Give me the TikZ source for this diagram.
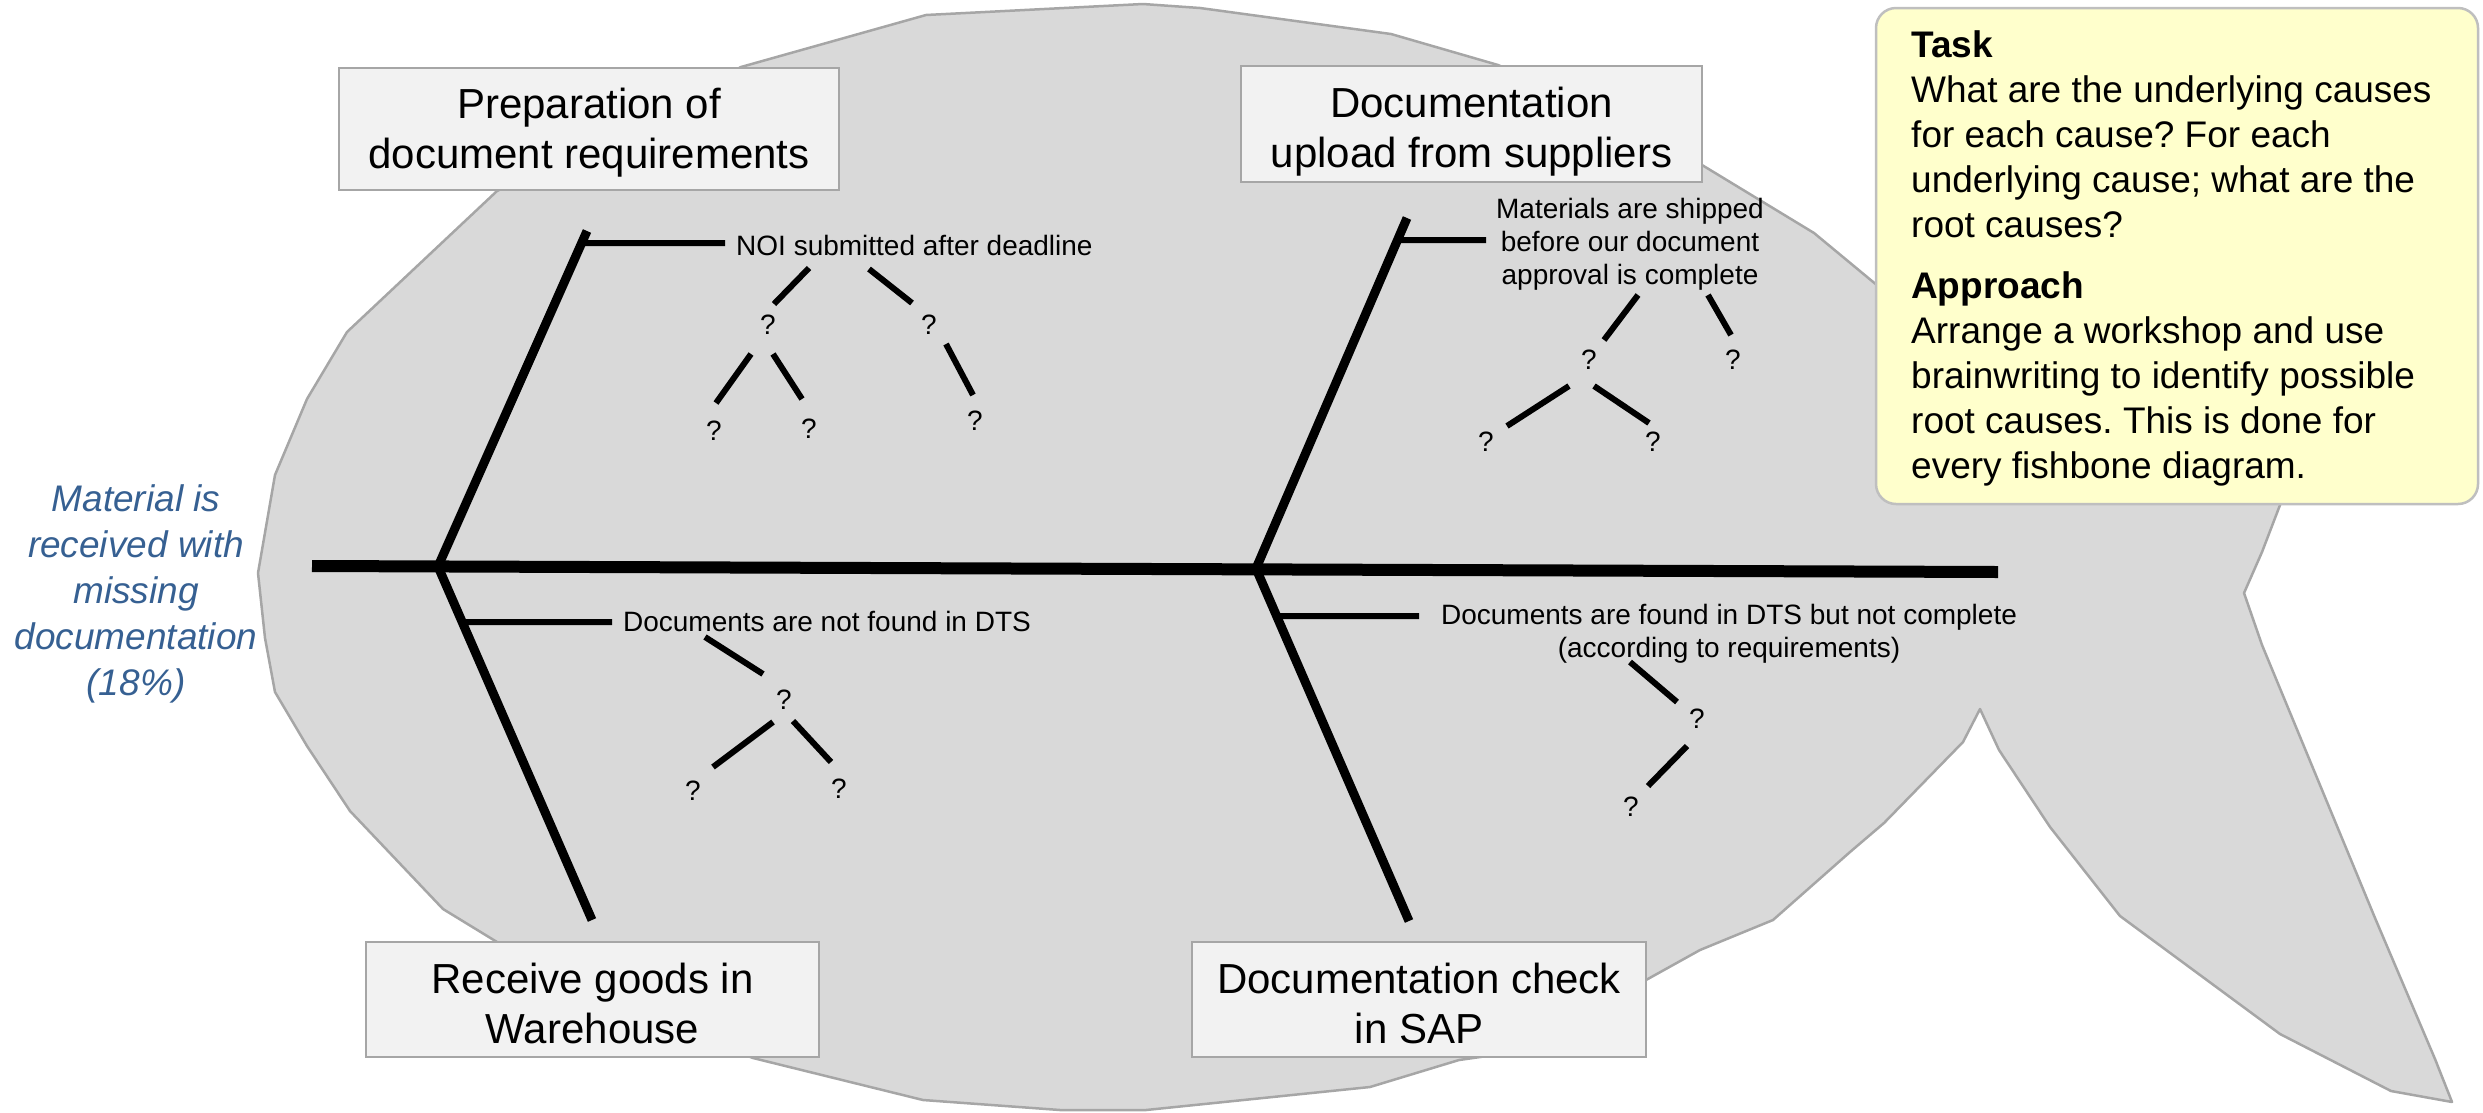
\documentclass[tikz,border=0pt]{standalone}
\usepackage{fontspec}
\setmainfont{Liberation Sans}
\usetikzlibrary{calc}
\definecolor{fishfill}{RGB}{217,217,217}
\definecolor{fishline}{RGB}{166,166,166}
\definecolor{boxfill}{RGB}{242,242,242}
\definecolor{notefill}{RGB}{255,255,204}
\definecolor{noteline}{RGB}{191,191,191}
\definecolor{effectblue}{RGB}{54,96,146}
\frenchspacing
\newcommand{\boxstrut}[1][38pt]{\rule{0pt}{#1}}
\begin{document}
\begin{tikzpicture}[x=1pt,y=-1pt,
  spine/.style={line width=12pt},
  bone/.style={line width=9pt,line join=miter},
  twig/.style={line width=6pt},
  catbox/.style={draw=fishline,line width=2.5pt,fill=boxfill,inner sep=0pt,
    align=center,font=\fontsize{42}{50}\selectfont},
  cause/.style={inner sep=0pt,align=center,font=\fontsize{28}{33}\selectfont},
  qmark/.style={inner sep=0pt,font=\fontsize{28}{33}\selectfont},
]
\useasboundingbox (0,0) rectangle (2483,1112);

% fish body
\draw[fill=fishfill,draw=fishline,line width=2.5pt,line join=round]
  (1143,4) -- (1200,8) -- (1391,34) -- (1498,65) -- (1600,110) -- (1702,165)
  -- (1814,233) -- (1884,291) -- (2000,380) -- (2150,440) -- (2290,470)
  -- (2280,505) -- (2262,552) -- (2244,593) -- (2262,645) -- (2375,918)
  -- (2435,1059) -- (2452,1102) -- (2391,1091) -- (2280,1034) -- (2120,916)
  -- (2050,827) -- (1999,750) -- (1980,709) -- (1963,742) -- (1884,823)
  -- (1850,852) -- (1773,920) -- (1700,950) -- (1646,980) -- (1600,1040)
  -- (1459,1060) -- (1370,1087) -- (1146,1110) -- (1060,1110) -- (923,1100)
  -- (753,1058) -- (600,1000) -- (497,942) -- (443,909) -- (350,811)
  -- (307,746) -- (275,692) -- (265,638) -- (258,573) -- (275,475)
  -- (307,399) -- (347,332) -- (497,191) -- (741,67) -- (926,15) -- cycle;

% spine and main bones
\coordinate (spineL) at (312,566);
\coordinate (spineR) at (1998,572);
\coordinate (jL) at (438,566.5);
\coordinate (jR) at (1256,568.5);
\coordinate (b1) at (587,231);
\coordinate (b2) at (592,920);
\coordinate (b3) at (1407,218);
\coordinate (b4) at (1409,921);
\draw[spine] (spineL) -- (spineR);
\draw[bone] (b1) -- (jL) -- (b2);
\draw[bone] (b3) -- (jR) -- (b4);

% category boxes
\node[catbox,minimum width=500pt,minimum height=122pt] (cat1) at (589,129)
  {\boxstrut Preparation of\\document requirements};
\node[catbox,minimum width=461pt,minimum height=116pt] (cat2) at (1471.5,124)
  {\boxstrut[46pt]Documentation\\upload from suppliers};
\node[catbox,minimum width=453pt,minimum height=115pt] (cat3) at (592.5,999.5)
  {\boxstrut Receive goods in\\Warehouse};
\node[catbox,minimum width=454pt,minimum height=115pt] (cat4) at (1419,999.5)
  {\boxstrut Documentation check\\in SAP};

% causes
\node[cause,anchor=west] (c1) at (736,245) {NOI submitted after deadline};
\node[cause] (c2) at (1630,244)
  {Materials are shipped\\before our document\\approval is complete};
\node[cause] (c3) at (827,621) {Documents are not found in DTS};
\node[cause] (c4) at (1729,634)
  {Documents are found in DTS but not complete\\(according to requirements)};

% cause branches
\coordinate (e1) at (725,243);
\coordinate (e2) at (1486,240);
\coordinate (e3) at (612,622);
\coordinate (e4) at (1419,616);
\draw[twig] ($(jL)!0.964!(b1)$) -- (e1);
\draw[twig] ($(jR)!0.937!(b3)$) -- (e2);
\draw[twig] ($(jL)!0.157!(b2)$) -- (e3);
\draw[twig] ($(jR)!0.135!(b4)$) -- (e4);

% underlying causes, first branch
\node[qmark] (q11) at (768,325) {?};
\node[qmark] (q12) at (929,325) {?};
\node[qmark] (q111) at (714,431) {?};
\node[qmark] (q112) at (809,429) {?};
\node[qmark] (q121) at (975,421) {?};
\draw[twig] (809,268) -- (774,304);
\draw[twig] (869,269) -- (912,303);
\draw[twig] (751,354) -- (716,403);
\draw[twig] (773,354) -- (802,399);
\draw[twig] (946,344) -- (973,395);

% underlying causes, second branch
\node[qmark] (q21) at (1589,360) {?};
\node[qmark] (q22) at (1733,360) {?};
\node[qmark] (q211) at (1486,442) {?};
\node[qmark] (q212) at (1653,442) {?};
\draw[twig] (1638,295) -- (1604,340);
\draw[twig] (1708,295) -- (1731,335);
\draw[twig] (1569,386) -- (1507,426);
\draw[twig] (1594,386) -- (1649,423);

% underlying causes, third branch
\node[qmark] (q31) at (784,700) {?};
\node[qmark] (q311) at (693,791) {?};
\node[qmark] (q312) at (839,789) {?};
\draw[twig] (705,637) -- (763,674);
\draw[twig] (773,722) -- (713,767);
\draw[twig] (793,721) -- (831,762);

% underlying causes, fourth branch
\node[qmark] (q41) at (1697,719) {?};
\node[qmark] (q411) at (1631,807) {?};
\draw[twig] (1630,662) -- (1677,702);
\draw[twig] (1687,746) -- (1648,786);

% effect
\node[inner sep=0pt,align=center,text=effectblue,
  font=\fontsize{37}{46}\selectfont\itshape] (effect) at (136,594)
  {Material is\\received with\\missing\\documentation\\(18\%)};

% task note
\node[draw=noteline,fill=notefill,line width=2.5pt,rounded corners=20pt,
  minimum width=602pt,minimum height=496pt,inner sep=0pt] (note) at (2177,256) {};
\node[anchor=north west,inner sep=0pt,align=left,
  font=\fontsize{37}{45}\selectfont] (notetext) at (1911,30)
  {\textbf{Task}\\What are the underlying causes\\for each cause? For each\\
   underlying cause; what are the\\root causes?\\[16pt]
   \textbf{Approach}\\Arrange a workshop and use\\brainwriting to identify possible\\
   root causes. This is done for\\every fishbone diagram.};
\end{tikzpicture}
\end{document}
